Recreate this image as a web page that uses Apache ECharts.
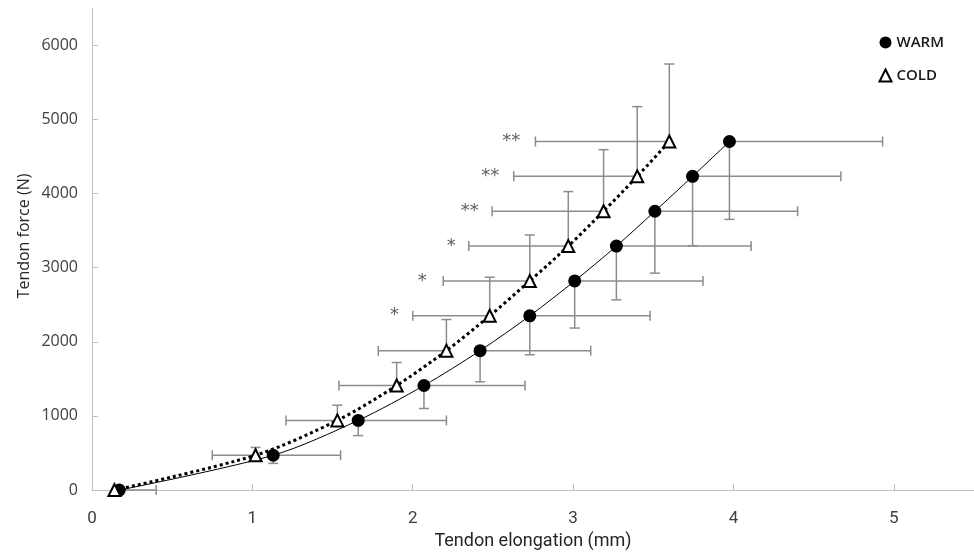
<!DOCTYPE html>
<html>
<head>
<meta charset="utf-8">
<script src="https://cdn.jsdelivr.net/npm/echarts@6/dist/echarts.min.js"></script>
<style>
  html, body { margin: 0; padding: 0; background: #fff; }
  #chart { width: 974px; height: 555px; }
</style>
</head>
<body>
<div id="chart"></div>
<script>
// tick labels
var xTicks = [0, 1, 2, 3, 4, 5];
var yTicks = [0, 1000, 2000, 3000, 4000, 5000, 6000];

// WARM: elongation (mm), force (N), error to the right (mm), error downward (N)
var warmX = [0.17, 1.13, 1.66, 2.07, 2.42, 2.73, 3.01, 3.27, 3.51, 3.745, 3.975];
var warmY = [0, 470, 940, 1410, 1880, 2350, 2820, 3290, 3760, 4230, 4700];
var warmXErr = [0.23, 0.42, 0.55, 0.63, 0.69, 0.75, 0.80, 0.84, 0.89, 0.925, 0.955];
var warmYErr = [0, 110, 205, 310, 420, 525, 635, 725, 835, 935, 1050];

// COLD: elongation (mm), force (N), error to the left (mm), error upward (N)
var coldX = [0.14, 1.02, 1.53, 1.90, 2.21, 2.48, 2.73, 2.97, 3.19, 3.40, 3.60];
var coldY = [0, 470, 940, 1410, 1880, 2350, 2820, 3290, 3760, 4230, 4700];
var coldXErr = [0, 0.27, 0.32, 0.36, 0.425, 0.48, 0.54, 0.62, 0.695, 0.77, 0.835];
var coldYErr = [0, 105, 205, 310, 420, 520, 620, 735, 830, 940, 1045];

// significance marks
var sigX = [1.887, 2.06, 2.24, 2.355, 2.484, 2.615];
var sigY = [2350, 2820, 3290, 3760, 4230, 4700];
var sigText = ['*', '*', '*', '**', '**', '**'];

function zip(a, b) {
    var out = [];
    for (var i = 0; i < a.length; i++) out.push([a[i], b[i]]);
    return out;
}

function errData(xs, ys, xe, ye) {
    var out = [];
    for (var i = 0; i < xs.length; i++) out.push([xs[i], ys[i], xe[i], ye[i]]);
    return out;
}

// one-sided error bars, sx / sy give the direction
function errRender(sx, sy) {
    return function (params, api) {
        var x = api.value(0), y = api.value(1), xe = api.value(2), ye = api.value(3);
        var p0 = api.coord([x, y]);
        var style = { stroke: '#8c8c8c', lineWidth: 1.5 };
        var cap = 5;
        var kids = [];
        if (xe > 0) {
            var px = api.coord([x + sx * xe, y]);
            kids.push({ type: 'line', shape: { x1: p0[0], y1: p0[1], x2: px[0], y2: px[1] }, style: style });
            kids.push({ type: 'line', shape: { x1: px[0], y1: px[1] - cap, x2: px[0], y2: px[1] + cap }, style: style });
        }
        if (ye > 0) {
            var py = api.coord([x, y + sy * ye]);
            kids.push({ type: 'line', shape: { x1: p0[0], y1: p0[1], x2: py[0], y2: py[1] }, style: style });
            kids.push({ type: 'line', shape: { x1: py[0] - cap, y1: py[1], x2: py[0] + cap, y2: py[1] }, style: style });
        }
        return { type: 'group', children: kids };
    };
}

var sigData = [];
for (var i = 0; i < sigX.length; i++) {
    sigData.push({ value: [sigX[i], sigY[i]], label: { formatter: sigText[i] } });
}

var myChart = echarts.init(document.getElementById('chart'));
var option = {
    backgroundColor: '#fff',
    animation: false,
    grid: { left: 92, right: 0, top: 8, bottom: 63 },
    legend: {
        data: ['WARM', 'COLD'],
        orient: 'vertical',
        right: 25,
        top: 30,
        itemGap: 18,
        itemWidth: 12,
        itemHeight: 12,
        textStyle: { fontFamily: 'Open Sans', fontSize: 15, fontWeight: 600, color: '#1a1a1a' }
    },
    graphic: [{
        type: 'text',
        x: 24,
        y: 236,
        rotation: Math.PI / 2,
        style: {
            text: 'Tendon force (N)',
            fontFamily: 'Open Sans',
            fontSize: 16,
            fill: '#262626',
            textAlign: 'center',
            textVerticalAlign: 'middle'
        }
    }],
    xAxis: {
        type: 'value',
        min: 0,
        max: 5.5,
        name: 'Tendon elongation (mm)',
        nameLocation: 'middle',
        nameGap: 40,
        nameTextStyle: { fontFamily: 'Roboto', fontSize: 18, color: '#262626' },
        axisLine: { lineStyle: { color: '#bfbfbf', width: 1 } },
        axisTick: { show: true, inside: true, length: 6, customValues: xTicks, lineStyle: { color: '#bfbfbf' } },
        axisLabel: { customValues: xTicks, margin: 20, fontFamily: 'Roboto', fontSize: 17, color: '#404040' },
        splitLine: { show: false }
    },
    yAxis: {
        type: 'value',
        min: 0,
        max: 6500,
        axisLine: { show: true, lineStyle: { color: '#bfbfbf', width: 1 } },
        axisTick: { show: true, inside: true, length: 6, customValues: yTicks, lineStyle: { color: '#bfbfbf' } },
        axisLabel: {
            customValues: yTicks,
            margin: 14,
            fontFamily: 'Open Sans',
            fontSize: 16,
            color: '#404040',
            formatter: function (v) { return String(v); }
        },
        splitLine: { show: false }
    },
    series: [
        {
            name: 'warm bars',
            type: 'custom',
            renderItem: errRender(1, -1),
            data: errData(warmX, warmY, warmXErr, warmYErr),
            z: 1
        },
        {
            name: 'cold bars',
            type: 'custom',
            renderItem: errRender(-1, 1),
            data: errData(coldX, coldY, coldXErr, coldYErr),
            z: 1
        },
        {
            name: 'warm trend',
            type: 'line',
            data: zip(warmX, warmY),
            smooth: 0.3,
            showSymbol: false,
            lineStyle: { color: '#000', width: 1 },
            z: 2
        },
        {
            name: 'cold trend',
            type: 'line',
            data: zip(coldX, coldY),
            smooth: 0.3,
            showSymbol: false,
            lineStyle: { color: '#000', width: 3, type: 'dotted' },
            z: 2
        },
        {
            name: 'WARM',
            type: 'scatter',
            data: zip(warmX, warmY),
            symbol: 'circle',
            symbolSize: 13,
            itemStyle: { color: '#000', opacity: 1 },
            z: 3
        },
        {
            name: 'COLD',
            type: 'scatter',
            data: zip(coldX, coldY),
            symbol: 'triangle',
            symbolSize: 12,
            itemStyle: { color: '#fff', borderColor: '#000', borderWidth: 2, opacity: 1 },
            z: 4
        },
        {
            name: 'sig',
            type: 'scatter',
            data: sigData,
            symbolSize: 0,
            label: {
                show: true,
                position: 'inside',
                fontFamily: 'DejaVu Sans',
                fontSize: 18,
                color: '#333'
            },
            z: 4
        }
    ]
};
myChart.setOption(option);
</script>
</body>
</html>
